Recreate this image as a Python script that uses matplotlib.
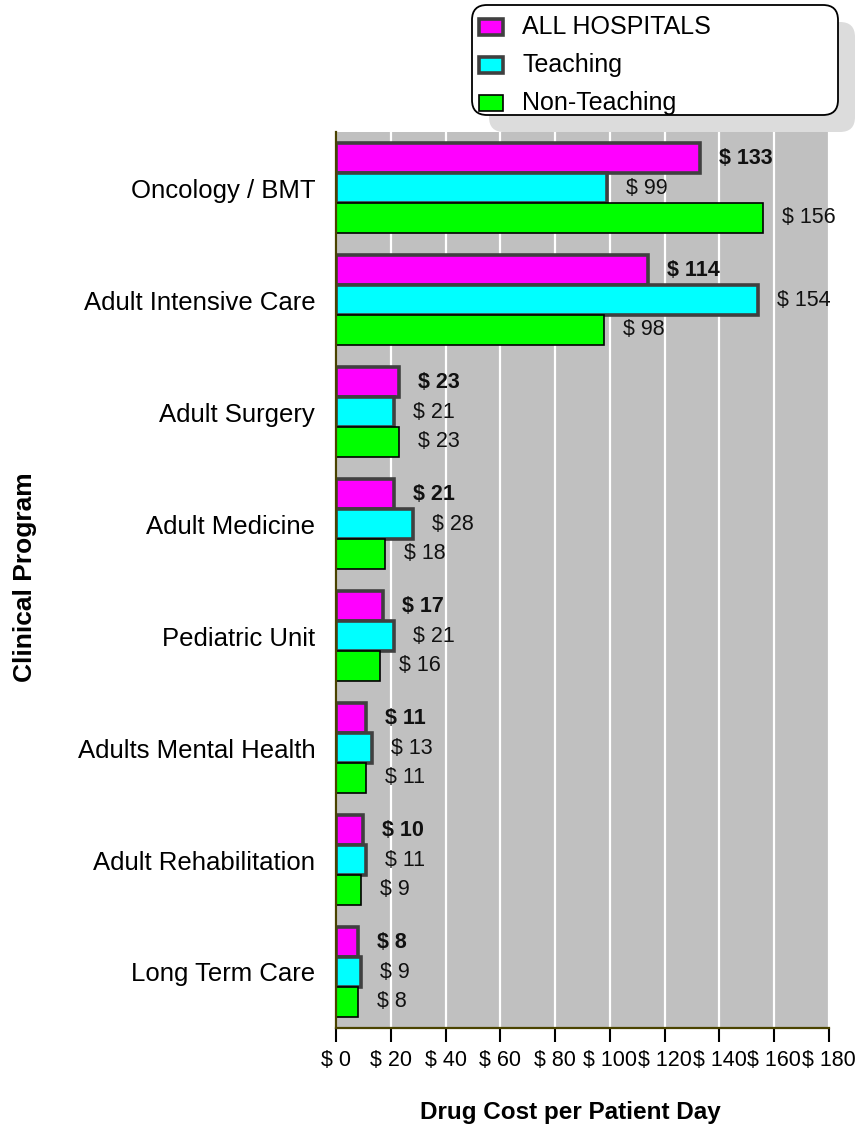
import matplotlib
matplotlib.use("Agg")
import matplotlib.pyplot as plt
from matplotlib.patches import FancyBboxPatch, Rectangle
from matplotlib.transforms import IdentityTransform
import numpy as np

plt.rcParams['font.family'] = ['Liberation Sans', 'DejaVu Sans']

categories = ["Oncology / BMT", "Adult Intensive Care", "Adult Surgery", "Adult Medicine",
              "Pediatric Unit", "Adults Mental Health", "Adult Rehabilitation", "Long Term Care"]
series_names = ["ALL HOSPITALS", "Teaching", "Non-Teaching"]
all_hospitals = [133, 114, 23, 21, 17, 11, 10, 8]
teaching = [99, 154, 21, 28, 21, 13, 11, 9]
non_teaching = [156, 98, 23, 18, 16, 11, 9, 8]
x_ticks = [0, 20, 40, 60, 80, 100, 120, 140, 160, 180]
x_tick_labels = ["$ " + str(v) for v in x_ticks]

W, H = 855, 1127
DPI = 100
fig = plt.figure(figsize=(W / DPI, H / DPI), dpi=DPI)
fig.patch.set_facecolor('white')

def fx(px):
    return px / W

def fy(py):
    return 1 - py / H

ax_l, ax_r, ax_t, ax_b = 336, 829, 132, 1028
ax = fig.add_axes([fx(ax_l), fy(ax_b), fx(ax_r - ax_l), (ax_b - ax_t) / H])
ax.set_facecolor('#c0c0c0')

n = len(categories)
y = np.arange(n)
h = 0.8 / 3
series = [all_hospitals, teaching, non_teaching]
colors = ['#ff00ff', '#00ffff', '#00ff00']
edges = ['#404040', '#404040', '#000000']
lws = [2.6, 2.6, 1.2]
offsets = [-h, 0, h]

for vals, c, ec, lw, off, name, bold in zip(series, colors, edges, lws, offsets, series_names,
                                             [True, False, False]):
    ax.barh(y + off, vals, height=h, color=c, edgecolor=ec, linewidth=lw, zorder=3, label=name)
    for yi, v in zip(y, vals):
        ax.annotate("$ " + str(v), xy=(v, yi + off), xytext=(19, 0), textcoords='offset pixels',
                    ha='left', va='center', fontsize=15.5, color='#111111',
                    fontweight='bold' if bold else 'normal', zorder=4)

ax.set_xlim(0, 180)
ax.set_ylim(n - 0.5, -0.5)
ax.set_xticks(x_ticks)
ax.set_xticklabels(x_tick_labels, fontsize=15.5)
ax.set_yticks(y)
ax.set_yticklabels(categories, fontsize=18.5)
ax.tick_params(axis='y', length=0, pad=15)
ax.tick_params(axis='x', length=10, width=1.5, direction='out', color='black', pad=6)
ax.xaxis.grid(True, color='white', linewidth=1.6, zorder=1)
ax.set_axisbelow(True)
for s in ['top', 'right']:
    ax.spines[s].set_visible(False)
for s in ['left', 'bottom']:
    ax.spines[s].set_color('#4a4300')
    ax.spines[s].set_linewidth(1.6)
    ax.spines[s].set_zorder(5)

fig.text(fx(570), fy(1112), "Drug Cost per Patient Day", ha='center', va='center',
         fontsize=17.5, fontweight='bold')
fig.text(fx(25), fy(577), "Clinical Program", ha='center', va='center',
         rotation=90, fontsize=19, fontweight='bold')

# legend box with shadow (pixel coordinates)
lx0, lx1, ly0, ly1 = 472, 838, 5, 115
pix = IdentityTransform()
shadow = FancyBboxPatch((lx0 + 17, H - ly1 - 17), lx1 - lx0, ly1 - ly0,
                        boxstyle="round,pad=0,rounding_size=15", transform=pix,
                        facecolor='#dcdcdc', edgecolor='none', zorder=10)
box = FancyBboxPatch((lx0, H - ly1), lx1 - lx0, ly1 - ly0,
                     boxstyle="round,pad=0,rounding_size=15", transform=pix,
                     facecolor='white', edgecolor='black', linewidth=1.3, zorder=11)
fig.add_artist(shadow)
fig.add_artist(box)
rows = [27, 65, 103]
for rc, name, c, ec, lw in zip(rows, series_names, colors, edges, lws):
    fig.add_artist(Rectangle((479, H - rc - 8), 24, 16, transform=pix,
                             facecolor=c, edgecolor=ec, linewidth=lw, zorder=12))
    fig.text(fx(522), fy(rc), name, ha='left', va='center', fontsize=18, zorder=13)

fig.savefig("out.png", dpi=DPI)
